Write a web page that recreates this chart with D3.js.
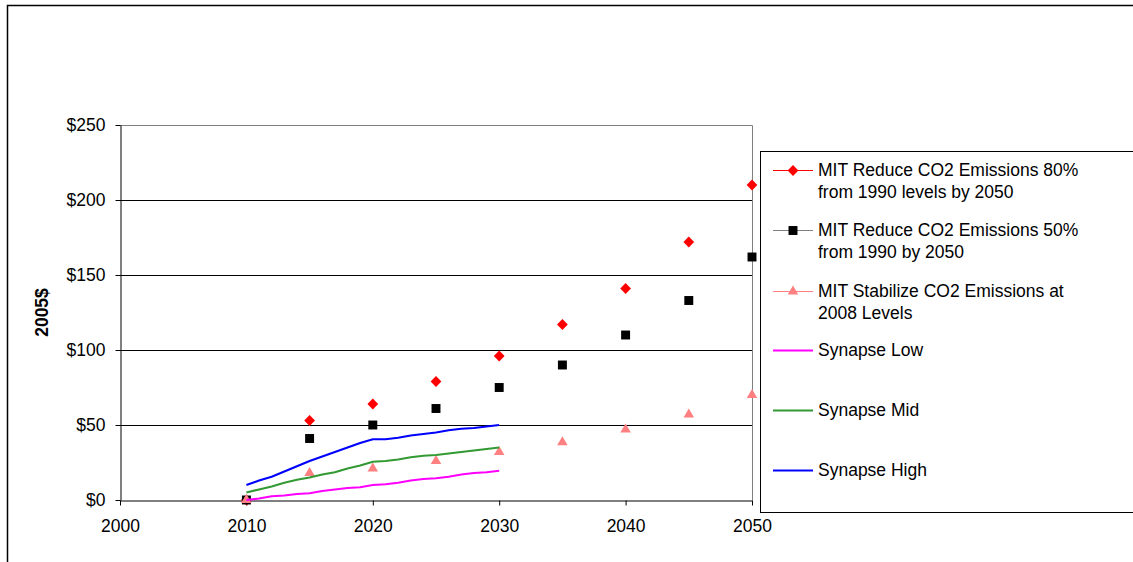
<!DOCTYPE html>
<html>
<head>
<meta charset="utf-8">
<script src="https://cdn.jsdelivr.net/npm/d3@7"></script>
<style>
  body { margin: 0; background: #fff; }
  svg { display: block; }
  text { font-family: "Liberation Sans", Arial, sans-serif; }
</style>
</head>
<body>
<svg id="chart" width="1133" height="562"></svg>
<script>
// MIT scenarios, every five years
var mitYears = [2010, 2015, 2020, 2025, 2030, 2035, 2040, 2045, 2050];
var mit80 = [0, 53, 64, 79, 96, 117, 141, 172, 210];
var mit50 = [0, 41, 50, 61, 75, 90, 110, 133, 162];
var mitStable = [0, 18, 21, 26, 32, 38.5, 47, 57, 70];

// Synapse forecasts, yearly
var synapseYears = [2010, 2011, 2012, 2013, 2014, 2015, 2016, 2017, 2018, 2019, 2020,
  2021, 2022, 2023, 2024, 2025, 2026, 2027, 2028, 2029, 2030];
var synapseLow = [0, 1, 2.5, 3, 4, 4.5, 6, 7, 8, 8.5, 10,
  10.5, 11.5, 13, 14, 14.5, 15.5, 17, 18, 18.5, 19.5];
var synapseMid = [5, 7, 9, 11.5, 13.5, 15, 17, 18.5, 21, 23, 25.5,
  26, 27, 28.5, 29.5, 30, 31, 32, 33, 34, 35];
var synapseHigh = [10, 13, 15.5, 19, 22.5, 26, 29, 32, 35, 38, 40.5,
  40.5, 41.5, 43, 44, 45, 46.5, 47.5, 48, 49, 50];

var xTicks = [2000, 2010, 2020, 2030, 2040, 2050];
var yTicks = [0, 50, 100, 150, 200, 250];
var gridValues = [50, 100, 150, 200];

var legendLabels = [
  ["MIT Reduce CO2 Emissions 80%", "from 1990 levels by 2050"],
  ["MIT Reduce CO2 Emissions 50%", "from 1990 by 2050"],
  ["MIT Stabilize CO2 Emissions at", "2008 Levels"],
  ["Synapse Low"],
  ["Synapse Mid"],
  ["Synapse High"]
];

var svg = d3.select("#chart");
var fontSize = 17.5;

var plot = { left: 120, right: 752, top: 125, bottom: 500 };

var x = d3.scaleLinear().domain([2000, 2050]).range([plot.left, plot.right]);
var y = d3.scaleLinear().domain([0, 250]).range([plot.bottom, plot.top]);

// outer chart border
svg.append("rect")
  .attr("x", 7.5).attr("y", 5.5)
  .attr("width", 1140).attr("height", 570)
  .attr("fill", "none")
  .attr("stroke", "#000")
  .attr("stroke-width", 1.5);

// plot area frame (top and right sides are grey)
svg.append("path")
  .attr("d", `M${plot.left},${y(250) + 0.5}H${plot.right + 0.5}V${plot.bottom}`)
  .attr("fill", "none")
  .attr("stroke", "#808080");

svg.append("g")
  .selectAll("line")
  .data(gridValues)
  .join("line")
  .attr("x1", plot.left).attr("x2", plot.right)
  .attr("y1", d => Math.round(y(d)) + 0.5)
  .attr("y2", d => Math.round(y(d)) + 0.5)
  .attr("stroke", "#000");

var yAxis = svg.append("g")
  .attr("transform", `translate(${plot.left + 0.5},0)`)
  .call(d3.axisLeft(y).tickValues(yTicks).tickSize(5).tickSizeOuter(0).tickPadding(10)
    .tickFormat(d => "$" + d));

var xAxis = svg.append("g")
  .attr("transform", `translate(0,${plot.bottom + 0.5})`)
  .call(d3.axisBottom(x).tickValues(xTicks).tickSize(5).tickSizeOuter(0).tickPadding(14)
    .tickFormat(d => String(d)));

[xAxis, yAxis].forEach(function (g) {
  g.selectAll("text").attr("font-size", fontSize).attr("fill", "#000")
    .attr("font-family", '"Liberation Sans", Arial, sans-serif');
  g.selectAll("line, path").attr("stroke", "#000");
});

svg.append("text")
  .attr("transform", `translate(48,${(plot.top + plot.bottom) / 2}) rotate(-90)`)
  .attr("text-anchor", "middle")
  .attr("font-size", fontSize)
  .attr("font-weight", "bold")
  .text("2005$");

// marker shapes; the diamond is a square turned 45 degrees
var square = d3.symbol().type(d3.symbolSquare).size(80);
var triangle = d3.symbol().type(d3.symbolTriangle).size(48);

function markerPath(kind) {
  return kind === "triangle" ? triangle() : square();
}

function markerTransform(kind, px, py) {
  var t = `translate(${px},${py})`;
  return kind === "diamond" ? t + " rotate(45) scale(0.85)" : t;
}

var markerSeries = [
  { values: mit80, color: "#ff0000", kind: "diamond" },
  { values: mit50, color: "#000000", kind: "square" },
  { values: mitStable, color: "#ff8080", kind: "triangle" }
];

markerSeries.forEach(function (s) {
  svg.append("g")
    .selectAll("path")
    .data(s.values)
    .join("path")
    .attr("d", markerPath(s.kind))
    .attr("transform", (d, i) => markerTransform(s.kind, x(mitYears[i]), y(d)))
    .attr("fill", s.color);
});

// Synapse lines
var line = d3.line()
  .x((d, i) => x(synapseYears[i]))
  .y(d => y(d));

var lineSeries = [
  { values: synapseLow, color: "#ff00ff" },
  { values: synapseMid, color: "#339933" },
  { values: synapseHigh, color: "#0000ff" }
];

lineSeries.forEach(function (s) {
  svg.append("path")
    .datum(s.values)
    .attr("d", line)
    .attr("fill", "none")
    .attr("stroke", s.color)
    .attr("stroke-width", 2.2);
});

// legend
var legend = svg.append("g");
legend.append("rect")
  .attr("x", 760.5).attr("y", 151.5)
  .attr("width", 400).attr("height", 361)
  .attr("fill", "#fff")
  .attr("stroke", "#000");

var legendRows = [170, 230, 291, 350, 410, 470];
var legendColors = ["#ff0000", "#000000", "#ff8080", "#ff00ff", "#339933", "#0000ff"];
var legendLineColors = ["#ff0000", "#808080", "#ff8080", "#ff00ff", "#339933", "#0000ff"];
var legendKinds = ["diamond", "square", "triangle", null, null, null];

legendLabels.forEach(function (lines, i) {
  var cy = legendRows[i];
  var k = legendKinds[i];
  var g = legend.append("g");
  g.append("line")
    .attr("x1", 773).attr("x2", 813)
    .attr("y1", cy + 0.5).attr("y2", cy + 0.5)
    .attr("stroke", legendLineColors[i])
    .attr("stroke-width", k ? 1.2 : 2.2);
  if (k) {
    g.append("path")
      .attr("d", markerPath(k))
      .attr("transform", markerTransform(k, 793, cy + 0.5))
      .attr("fill", legendColors[i]);
  }
  var t = g.append("text")
    .attr("x", 818)
    .attr("y", cy + 6)
    .attr("font-size", fontSize);
  lines.forEach(function (s, j) {
    t.append("tspan").attr("x", 818).attr("dy", j === 0 ? 0 : 21.5).text(s);
  });
});
</script>
</body>
</html>
